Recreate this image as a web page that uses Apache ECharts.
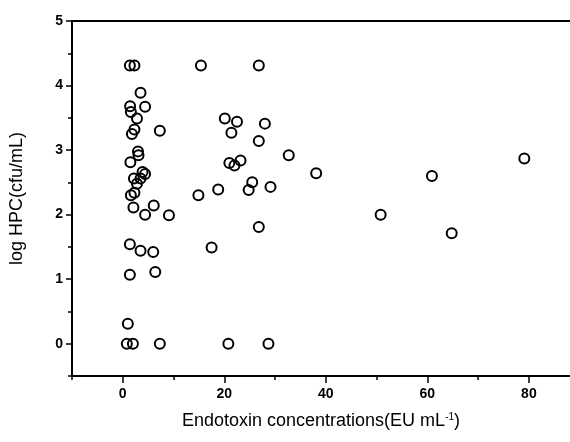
<!DOCTYPE html>
<html>
<head>
<meta charset="utf-8">
<script src="https://cdn.jsdelivr.net/npm/echarts@6/dist/echarts.min.js"></script>
<style>html,body{margin:0;padding:0;background:#fff}#c{width:570px;height:442px}</style>
</head>
<body>
<div id="c"></div>
<script>
const endotoxin = [1.4,2.3,15.4,26.8,3.5,1.45,4.4,1.6,2.8,20.1,22.5,28.0,2.3,1.8,7.3,21.4,26.8,3.0,3.1,1.5,21.0,22.0,23.2,32.7,3.9,4.4,2.2,3.5,2.8,38.1,25.5,24.8,29.1,18.8,2.3,1.6,14.9,2.1,6.1,4.4,9.1,26.8,50.8,60.9,64.8,79.1,17.5,1.4,3.5,6.0,1.4,6.4,1.0,0.8,2.0,7.3,20.8,28.7];
const logHPC = [4.31,4.31,4.31,4.31,3.89,3.68,3.67,3.59,3.49,3.49,3.44,3.41,3.32,3.25,3.30,3.27,3.14,2.98,2.92,2.81,2.80,2.76,2.84,2.92,2.66,2.63,2.56,2.56,2.48,2.64,2.50,2.38,2.43,2.39,2.34,2.30,2.30,2.11,2.14,2.00,1.99,1.81,2.00,2.60,1.71,2.87,1.49,1.54,1.44,1.42,1.07,1.11,0.31,0,0,0,0,0];
const xTicks = [0,20,40,60,80];
const xMinorTicks = [-10,10,30,50,70];
const yTicks = [0,1,2,3,4,5];
const yMinorTicks = [-0.5,0.5,1.5,2.5,3.5,4.5];
const xTitle = 'Endotoxin concentrations(EU mL{sup|-1})';
const yTitle = 'log HPC(cfu/mL)';

const XMIN = -10, XMAX = 88.1, YMIN = -0.5, YMAX = 5;
const lineStyle = {color:'#000', width:2};
const labelStyle = {color:'#000', fontFamily:'Liberation Sans, Arial', fontWeight:'bold', fontSize:14};

const chart = echarts.init(document.getElementById('c'));
chart.setOption({
  animation:false,
  grid:{left:72, right:0, top:21, bottom:66, containLabel:false},
  xAxis:[
    {type:'value', min:XMIN, max:XMAX, position:'bottom',
     axisLine:{show:true, onZero:false, lineStyle},
     axisTick:{show:true, inside:false, length:7, lineStyle:{color:'#000', width:1.5}, customValues:xTicks},
     axisLabel:{...labelStyle, margin:11, customValues:xTicks},
     splitLine:{show:false},
     name:xTitle, nameLocation:'middle', nameGap:36,
     nameTextStyle:{color:'#000', fontFamily:'Liberation Sans, Arial', fontSize:18,
       rich:{sup:{fontSize:10, verticalAlign:'top', padding:[0,0,8,0], color:'#000', fontFamily:'Liberation Sans, Arial'}}}
    },
    {type:'value', min:XMIN, max:XMAX, position:'bottom',
     axisLine:{show:false, onZero:false},
     axisTick:{show:true, length:4, lineStyle:{color:'#000', width:1.5}, customValues:xMinorTicks},
     axisLabel:{show:false}, splitLine:{show:false}},
    {type:'value', min:XMIN, max:XMAX, position:'top',
     axisLine:{show:true, onZero:false, lineStyle},
     axisTick:{show:false}, axisLabel:{show:false}, splitLine:{show:false}}
  ],
  yAxis:[
    {type:'value', min:YMIN, max:YMAX, position:'left',
     axisLine:{show:true, onZero:false, lineStyle},
     axisTick:{show:true, length:6, lineStyle:{color:'#000', width:1.5}, customValues:yTicks},
     axisLabel:{...labelStyle, margin:9, customValues:yTicks},
     splitLine:{show:false},
     name:yTitle, nameLocation:'middle', nameGap:46,
     nameTextStyle:{color:'#000', fontFamily:'Liberation Sans, Arial', fontSize:18}
    },
    {type:'value', min:YMIN, max:YMAX, position:'left',
     axisLine:{show:false, onZero:false},
     axisTick:{show:true, length:4, lineStyle:{color:'#000', width:1.5}, customValues:yMinorTicks},
     axisLabel:{show:false}, splitLine:{show:false}}
  ],
  series:[{
    type:'scatter', xAxisIndex:0, yAxisIndex:0,
    data:endotoxin.map((x,i)=>[x, logHPC[i]]),
    symbol:'circle', symbolSize:10,
    itemStyle:{color:'transparent', borderColor:'#000', borderWidth:2, opacity:1},
    emphasis:{disabled:true}
  }]
});
</script>
</body>
</html>
